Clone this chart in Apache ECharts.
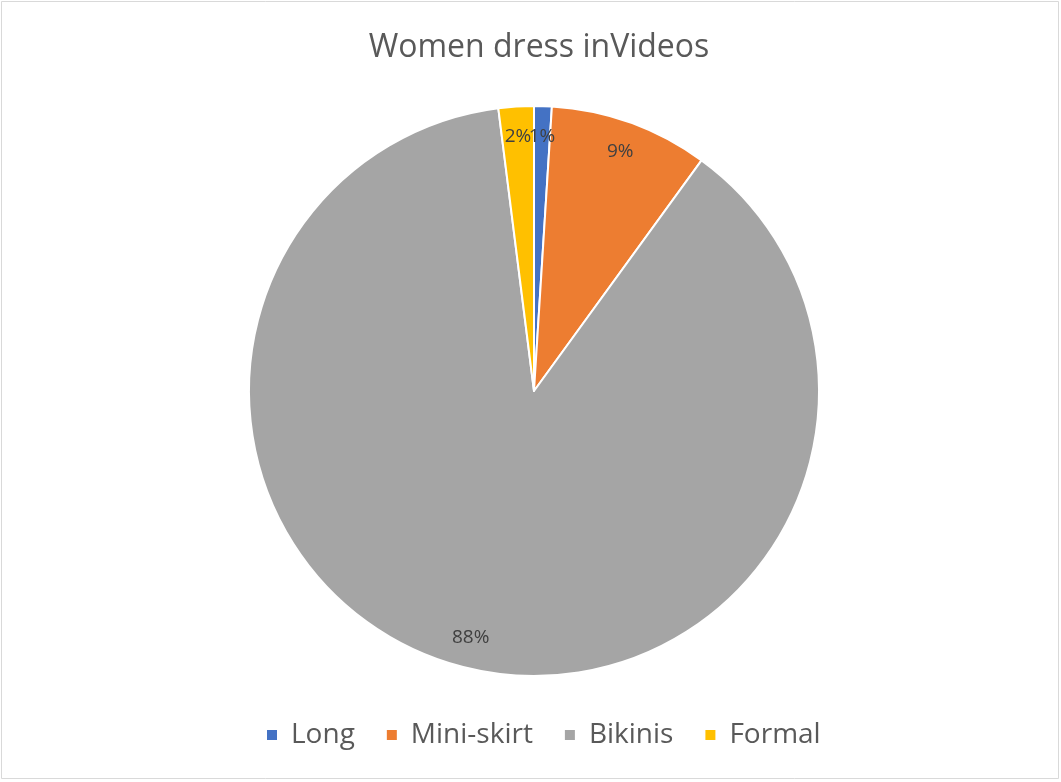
<!DOCTYPE html>
<html>
<head>
<meta charset="utf-8">
<script src="https://cdn.jsdelivr.net/npm/echarts@6/dist/echarts.min.js"></script>
<style>html,body{margin:0;padding:0;background:#fff}#c{width:1061px;height:782px}</style>
</head>
<body>
<div id="c"></div>
<script>
const categories = ["Long", "Mini-skirt", "Bikinis", "Formal"];
const values = [1, 9, 88, 2];
const colors = ["#4472C4", "#ED7D31", "#A5A5A5", "#FFC000"];
const titleText = "Women dress inVideos";

const chart = echarts.init(document.getElementById('c'), null, {renderer: 'canvas'});
const data = categories.map((n, i) => ({name: n, value: values[i], itemStyle: {color: colors[i]}}));
const labelData = categories.map((n, i) => ({name: n, value: values[i]}));
const FONT = '"Open Sans", "Liberation Sans", sans-serif';
chart.setOption({
  animation: false,
  backgroundColor: '#fff',
  title: {
    text: titleText, left: 534, textAlign: 'center', top: 27,
    textStyle: {fontFamily: FONT, fontSize: 32, fontWeight: 'normal', color: '#595959'}
  },
  legend: {
    data: categories.map((n, i) => ({name: n, itemStyle: {color: colors[i]}})),
    bottom: 28, left: 260, icon: 'rect', itemWidth: 12, itemHeight: 12, itemGap: 30,
    textStyle: {fontFamily: FONT, fontSize: 28, color: '#595959', padding: [0, 0, 0, 8]}
  },
  graphic: [{
    type: 'rect', shape: {x: 1.5, y: 1.5, width: 1057, height: 777},
    style: {fill: 'none', stroke: '#d9d9d9', lineWidth: 1}, silent: true
  }],
  series: [{
    type: 'pie', center: [534, 391], radius: [0, 285], startAngle: 90, clockwise: true,
    data: data, label: {show: false}, labelLine: {show: false},
    itemStyle: {borderColor: '#fff', borderWidth: 2}, silent: true
  }, {
    type: 'pie', center: [534, 391], radius: [218, 285], startAngle: 90, clockwise: true,
    percentPrecision: 0, data: labelData, silent: true, avoidLabelOverlap: false,
    minShowLabelAngle: 0,
    itemStyle: {color: 'rgba(0,0,0,0)', borderWidth: 0},
    label: {show: true, position: 'inside', formatter: '{d}%', fontFamily: FONT, fontSize: 19, color: '#404040'},
    labelLayout: {hideOverlap: false},
    labelLine: {show: false}, emphasis: {disabled: true}
  }]
});
</script>
</body>
</html>
